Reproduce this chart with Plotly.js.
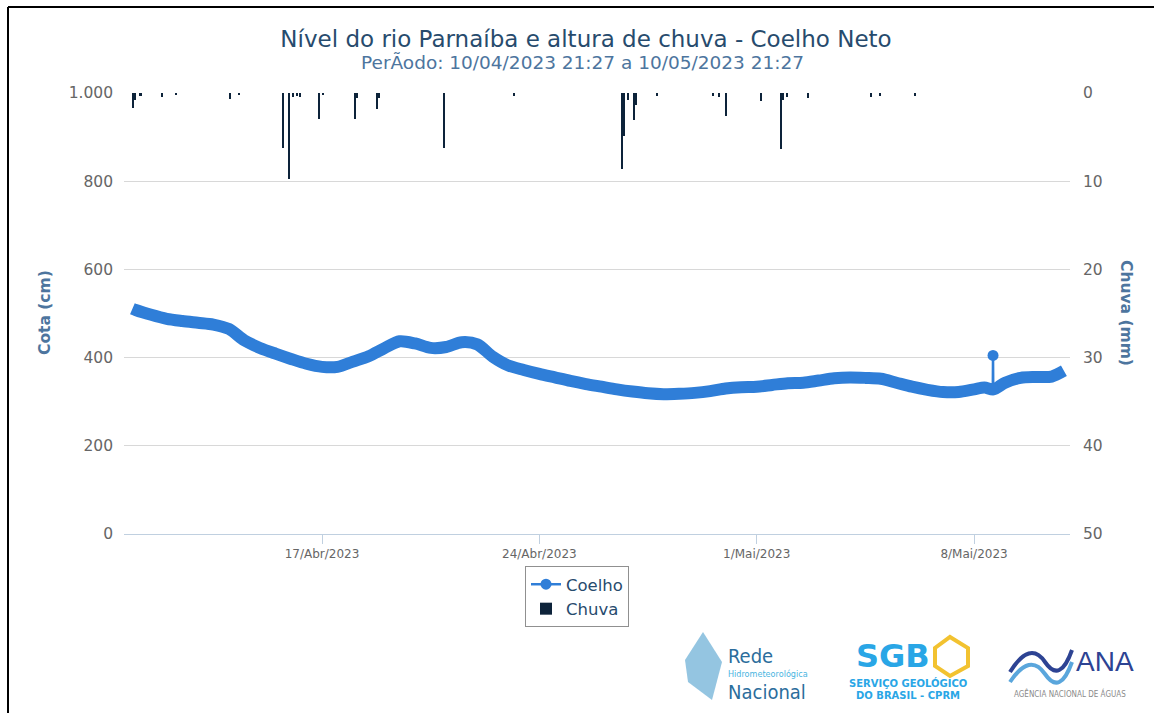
<!DOCTYPE html>
<html>
<head>
<meta charset="utf-8">
<script src="https://cdn.plot.ly/plotly-3.0.1.min.js"></script>
<style>
html,body{margin:0;padding:0;background:#fff;}
#chart{width:1154px;height:713px;}
</style>
</head>
<body>
<div id="chart"></div>
<script>
// ---- Data ----
const coelhoTimes = ['2023-04-10 21:27','2023-04-11 00:00','2023-04-11 12:00','2023-04-12 00:00','2023-04-12 12:00','2023-04-13 00:00','2023-04-13 12:00','2023-04-14 00:00','2023-04-14 12:00','2023-04-15 00:00','2023-04-15 12:00','2023-04-16 00:00','2023-04-16 12:00','2023-04-17 00:00','2023-04-17 12:00','2023-04-18 00:00','2023-04-18 12:00','2023-04-19 00:00','2023-04-19 12:00','2023-04-20 00:00','2023-04-20 12:00','2023-04-21 00:00','2023-04-21 12:00','2023-04-22 00:00','2023-04-22 12:00','2023-04-23 00:00','2023-04-23 12:00','2023-04-24 00:00','2023-04-24 12:00','2023-04-25 00:00','2023-04-25 12:00','2023-04-26 00:00','2023-04-26 12:00','2023-04-27 00:00','2023-04-27 12:00','2023-04-28 00:00','2023-04-28 12:00','2023-04-29 00:00','2023-04-29 12:00','2023-04-30 00:00','2023-04-30 12:00','2023-05-01 00:00','2023-05-01 12:00','2023-05-02 00:00','2023-05-02 12:00','2023-05-03 00:00','2023-05-03 12:00','2023-05-04 00:00','2023-05-04 12:00','2023-05-05 00:00','2023-05-05 12:00','2023-05-06 00:00','2023-05-06 12:00','2023-05-07 00:00','2023-05-07 12:00','2023-05-08 00:00','2023-05-08 08:00','2023-05-08 15:00','2023-05-09 00:00','2023-05-09 12:00','2023-05-10 00:00','2023-05-10 12:00','2023-05-10 21:27'];
const coelhoCota = [511,508,497,488,483,479,475,465,439,422,409,397,386,379,379,391,403,421,437,432,422,424,435,430,402,382,372,363,355,347,340,334,328,323,319,317,318,320,324,330,333,334,338,342,343,348,353,355,354,352,343,334,327,322,322,328,332,328,343,354,356,357,370];

const spikeTimes = ['2023-05-08 14:30','2023-05-08 14:40','2023-05-08 14:50'];
const spikeCota = [330,405,329];

const chuvaTimes = ['2023-04-10 21:55','2023-04-10 23:27','2023-04-11 04:00','2023-04-11 20:20','2023-04-12 07:10','2023-04-14 00:53','2023-04-14 07:51','2023-04-15 17:51','2023-04-15 22:29','2023-04-16 01:35','2023-04-16 04:41','2023-04-16 06:59','2023-04-16 21:40','2023-04-17 00:46','2023-04-18 01:31','2023-04-18 03:03','2023-04-18 18:30','2023-04-18 20:03','2023-04-20 22:18','2023-04-23 04:25','2023-04-26 15:53','2023-04-26 17:26','2023-04-26 20:31','2023-04-27 01:09','2023-04-27 02:43','2023-04-27 18:56','2023-04-29 14:14','2023-04-29 18:52','2023-04-30 00:16','2023-05-01 03:19','2023-05-01 18:47','2023-05-01 20:20','2023-05-01 23:25','2023-05-02 15:39','2023-05-04 16:21','2023-05-04 23:18','2023-05-06 02:21'];
const chuvaMm = [1.7,0.8,0.3,0.4,0.2,0.7,0.2,6.2,9.7,0.5,0.3,0.4,3.0,0.2,3.0,0.6,1.8,0.6,6.2,0.3,8.6,4.9,0.8,3.1,1.4,0.3,0.3,0.5,2.6,0.9,6.3,0.8,0.4,0.6,0.5,0.3,0.3];

const xTickVals = ['2023-04-17','2023-04-24','2023-05-01','2023-05-08'];
const xTickText = ['17/Abr/2023','24/Abr/2023','1/Mai/2023','8/Mai/2023'];

const titleText = 'Nível do rio Parnaíba e altura de chuva - Coelho Neto';
const subtitleText = 'PerÃodo: 10/04/2023 21:27 a 10/05/2023 21:27';

// ---- Layout helpers (pixel -> paper) ----
const L = 124, R = 1070, T = 93, B = 534;
const px = x => (x - L) / (R - L);
const py = y => (B - y) / (B - T);

const FONT = '"DejaVu Sans", Verdana, sans-serif';
const blue = '#2f7ed8';
const NARROW = '"Liberation Sans Narrow", "DejaVu Sans Condensed", "Roboto", sans-serif';

const traces = [
  {
    x: coelhoTimes, y: coelhoCota, type: 'scatter', mode: 'lines',
    line: {color: blue, width: 12, shape: 'spline', smoothing: 0.8},
    showlegend: false, hoverinfo: 'x+y', yaxis: 'y'
  },
  {
    x: spikeTimes, y: spikeCota, type: 'scatter', mode: 'lines+markers',
    name: 'Coelho', legendrank: 1,
    line: {color: blue, width: 2.5},
    marker: {color: blue, size: 11},
    yaxis: 'y'
  },
  {
    x: chuvaTimes, y: chuvaMm, type: 'bar', name: 'Chuva', legendrank: 2,
    marker: {color: '#0d233a', line: {width: 0}},
    width: 1.5 * 3600 * 1000,
    yaxis: 'y2'
  }
];

const logoAnn = [
  {x: px(726), y: py(656), text: 'Rede', font: {family: NARROW, size: 20, color: '#2b6d9c'}, xanchor: 'left'},
  {x: px(726), y: py(674), text: 'Hidrometeorológica', font: {family: NARROW, size: 9, color: '#49b5df'}, xanchor: 'left'},
  {x: px(726), y: py(692), text: 'Nacional', font: {family: NARROW, size: 20, color: '#2b6d9c'}, xanchor: 'left'},
  {x: px(893), y: py(656), text: '<b>SGB</b>', font: {family: FONT, size: 32, color: '#29a6e6'}, xanchor: 'center'},
  {x: px(908), y: py(683), text: '<b>SERVIÇO GEOLÓGICO</b>', font: {family: FONT, size: 10, color: '#29a6e6'}, xanchor: 'center'},
  {x: px(908), y: py(695), text: '<b>DO BRASIL - CPRM</b>', font: {family: FONT, size: 10, color: '#29a6e6'}, xanchor: 'center'},
  {x: px(1105), y: py(661), text: 'ANA', font: {family: '"Liberation Sans", sans-serif', size: 28, color: '#2d4393'}, xanchor: 'center'},
  {x: px(1070), y: py(693), text: 'AGÊNCIA NACIONAL DE ÁGUAS', font: {family: NARROW, size: 8, color: '#8a8a8a'}, xanchor: 'center'}
].map(a => Object.assign({xref: 'paper', yref: 'paper', showarrow: false, yanchor: 'middle'}, a));

const layout = {
  width: 1154, height: 713,
  margin: {l: L, r: 1154 - R, t: T, b: 713 - B, pad: 0},
  paper_bgcolor: '#ffffff', plot_bgcolor: '#ffffff',
  font: {family: FONT, color: '#666666'},
  separators: ',.',
  title: {
    text: titleText, x: 586 / 1154, xanchor: 'center', xref: 'container',
    y: 1 - 39 / 713, yanchor: 'middle', yref: 'container',
    font: {family: FONT, size: 23, color: '#274b6d'}
  },
  xaxis: {
    type: 'date',
    range: ['2023-04-10 14:57', '2023-05-11 02:10'],
    tickvals: xTickVals, ticktext: xTickText,
    showgrid: false, zeroline: false,
    showline: true, linecolor: '#c0d0e0', linewidth: 1,
    ticks: 'outside', ticklen: 9, tickcolor: '#c0d0e0',
    tickfont: {family: FONT, size: 12, color: '#666666'}
  },
  yaxis: {
    range: [0, 1000], tick0: 0, dtick: 200,
    separatethousands: true,
    showgrid: true, gridcolor: '#d8d8d8', gridwidth: 1,
    zeroline: false, showline: false, ticks: '',
    tickfont: {family: FONT, size: 15.5, color: '#666666'},
    ticklabelstandoff: 10
  },
  yaxis2: {
    overlaying: 'y', side: 'right',
    range: [50, 0], tick0: 0, dtick: 10,
    showgrid: false, zeroline: false, showline: false, ticks: '',
    tickfont: {family: FONT, size: 15.5, color: '#666666'},
    ticklabelstandoff: 12
  },
  bargap: 0,
  legend: {
    x: px(577), xanchor: 'center', y: py(566), yanchor: 'top',
    xref: 'paper', yref: 'paper',
    bordercolor: '#909090', borderwidth: 1, bgcolor: '#ffffff',
    font: {family: FONT, size: 16.5, color: '#274b6d'},
    itemwidth: 30, tracegroupgap: 0
  },
  annotations: [
    {xref: 'paper', yref: 'paper', x: px(582), y: py(63), text: subtitleText, showarrow: false,
     xanchor: 'center', yanchor: 'middle', font: {family: FONT, size: 18.5, color: '#4d759e'}},
    {xref: 'paper', yref: 'paper', x: px(45), y: py(313), text: '<b>Cota (cm)</b>', showarrow: false,
     textangle: -90, xanchor: 'center', yanchor: 'middle', font: {family: FONT, size: 15.5, color: '#4d759e'}},
    {xref: 'paper', yref: 'paper', x: px(1126), y: py(313), text: '<b>Chuva (mm)</b>', showarrow: false,
     textangle: 90, xanchor: 'center', yanchor: 'middle', font: {family: FONT, size: 15.5, color: '#4d759e'}}
  ].concat(logoAnn),
  shapes: [
    // document frame
    {type: 'line', xref: 'paper', yref: 'paper', x0: px(8), x1: px(8), y0: py(7), y1: py(720), line: {color: '#000', width: 2}},
    {type: 'line', xref: 'paper', yref: 'paper', x0: px(8), x1: px(1160), y0: py(7), y1: py(7), line: {color: '#000', width: 2}},
    // Rede logo mark
    {type: 'path', xref: 'paper', yref: 'paper',
     path: `M ${px(703)} ${py(632)} L ${px(722)} ${py(662)} L ${px(712)} ${py(700)} L ${px(688)} ${py(682)} L ${px(685)} ${py(660)} Z`,
     fillcolor: 'rgba(60,150,200,0.55)', line: {width: 0}},
    // SGB mark
    {type: 'path', xref: 'paper', yref: 'paper',
     path: `M ${px(950)} ${py(637)} L ${px(968)} ${py(648)} L ${px(968)} ${py(666)} L ${px(950)} ${py(676)} L ${px(935)} ${py(666)} L ${px(935)} ${py(648)} Z`,
     fillcolor: 'rgba(0,0,0,0)', line: {color: '#f2c230', width: 4}},
    // ANA waves
    {type: 'path', xref: 'paper', yref: 'paper',
     path: `M ${px(1010)} ${py(672)} Q ${px(1030)} ${py(640)} ${px(1045)} ${py(662)} T ${px(1072)} ${py(650)}`,
     fillcolor: 'rgba(0,0,0,0)', line: {color: '#2d4393', width: 4}},
    {type: 'path', xref: 'paper', yref: 'paper',
     path: `M ${px(1010)} ${py(682)} Q ${px(1030)} ${py(652)} ${px(1045)} ${py(674)} T ${px(1072)} ${py(662)}`,
     fillcolor: 'rgba(0,0,0,0)', line: {color: '#5aa6dc', width: 4}}
  ]
};

Plotly.newPlot('chart', traces, layout, {displayModeBar: false, responsive: false});
</script>
</body>
</html>
